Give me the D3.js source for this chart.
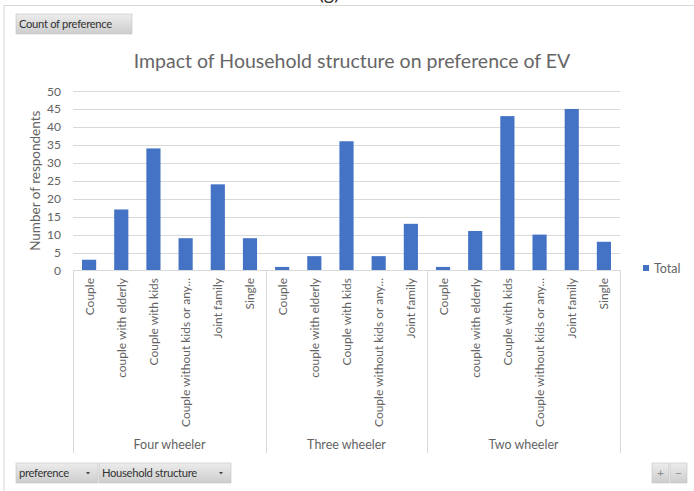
<!DOCTYPE html>
<html>
<head>
<meta charset="utf-8">
<script src="https://cdn.jsdelivr.net/npm/d3@7"></script>
<style>
  body { margin: 0; background: #fff; }
  svg { display: block; font-family: Lato, "Open Sans", sans-serif; }
</style>
</head>
<body>
<div id="chart"></div>
<script>
// data
const groups = ["Four wheeler", "Three wheeler", "Two wheeler"];
const fourWheelerCats = ["Couple", "couple with elderly", "Couple with kids", "Couple without kids or any...", "Joint family", "Single"];
const fourWheelerVals = [3, 17, 34, 9, 24, 9];
const threeWheelerCats = ["Couple", "couple with elderly", "Couple with kids", "Couple without kids or any...", "Joint family"];
const threeWheelerVals = [1, 4, 36, 4, 13];
const twoWheelerCats = ["Couple", "couple with elderly", "Couple with kids", "Couple without kids or any...", "Joint family", "Single"];
const twoWheelerVals = [1, 11, 43, 10, 45, 8];
const yTicks = [0, 5, 10, 15, 20, 25, 30, 35, 40, 45, 50];

const width = 694, height = 491;
const x0 = 73, x1 = 620, yTop = 91, yBase = 270.5;
const textCol = "#636363";

// flatten into rows
const rows = [];
[[fourWheelerCats, fourWheelerVals], [threeWheelerCats, threeWheelerVals], [twoWheelerCats, twoWheelerVals]]
  .forEach(([cats, vals], gi) => {
    cats.forEach((c, i) => rows.push({group: groups[gi], cat: c, value: vals[i], key: gi + "-" + i}));
  });

const svg = d3.select("#chart").append("svg")
  .attr("width", width).attr("height", height);

// outer frame
svg.append("path")
  .attr("d", `M4,${height} V5.5 H${width}`)
  .attr("fill", "none").attr("stroke", "#d6d6d6");
svg.append("text")
  .attr("x", 329).attr("y", 0)
  .attr("text-anchor", "middle")
  .attr("font-size", 20).attr("fill", "#333")
  .text("(g)");

const x = d3.scaleBand().domain(rows.map(d => d.key)).range([x0, x1]).padding(0);
const y = d3.scaleLinear().domain([0, 50]).range([yBase, yTop]);
const barW = x.bandwidth() * 0.44;

// gridlines
svg.append("g").selectAll("line")
  .data(yTicks.filter(t => t > 0))
  .join("line")
  .attr("x1", x0).attr("x2", x1)
  .attr("y1", d => Math.round(y(d)) + 0.5).attr("y2", d => Math.round(y(d)) + 0.5)
  .attr("stroke", "#d9d9d9");

// y tick labels
svg.append("g").selectAll("text")
  .data(yTicks)
  .join("text")
  .attr("x", 61).attr("y", d => y(d) + 4.5)
  .attr("text-anchor", "end")
  .attr("font-size", 12).attr("fill", textCol)
  .text(d => d);

svg.append("text")
  .attr("transform", `translate(40,${(yTop + yBase) / 2}) rotate(-90)`)
  .attr("text-anchor", "middle")
  .attr("font-size", 13.5).attr("fill", textCol)
  .text("Number of respondents");

// bars
svg.append("g").selectAll("rect")
  .data(rows)
  .join("rect")
  .attr("x", d => x(d.key) + (x.bandwidth() - barW) / 2)
  .attr("width", barW)
  .attr("y", d => y(d.value))
  .attr("height", d => yBase - y(d.value))
  .attr("fill", "#4472C4");

// category axis
const axisBottom = 453;
svg.append("line")
  .attr("x1", x0).attr("x2", x1).attr("y1", yBase).attr("y2", yBase)
  .attr("stroke", "#d9d9d9");
const bounds = [x0];
let idx = 0;
[fourWheelerCats, threeWheelerCats, twoWheelerCats].forEach(c => {
  idx += c.length;
  bounds.push(idx < rows.length ? x(rows[idx].key) : x1);
});
svg.append("g").selectAll("line")
  .data(bounds)
  .join("line")
  .attr("x1", d => Math.round(d) + 0.5).attr("x2", d => Math.round(d) + 0.5)
  .attr("y1", yBase).attr("y2", axisBottom)
  .attr("stroke", "#d9d9d9");

svg.append("g").selectAll("text")
  .data(rows)
  .join("text")
  .attr("transform", d => `translate(${x(d.key) + x.bandwidth() / 2 + 4.5},278) rotate(-90)`)
  .attr("text-anchor", "end")
  .attr("font-size", 12).attr("fill", textCol)
  .text(d => d.cat);

svg.append("g").selectAll("text")
  .data(groups)
  .join("text")
  .attr("x", (d, i) => (bounds[i] + bounds[i + 1]) / 2)
  .attr("y", 449)
  .attr("text-anchor", "middle")
  .attr("font-size", 12.5).attr("fill", textCol)
  .text(d => d);

// title
svg.append("text")
  .attr("x", 352).attr("y", 68)
  .attr("text-anchor", "middle")
  .attr("font-size", 19.5).attr("fill", "#666")
  .text("Impact of Household structure on preference of EV");

// legend
svg.append("rect")
  .attr("x", 643).attr("y", 265).attr("width", 6).attr("height", 6)
  .attr("fill", "#4472C4");
svg.append("text")
  .attr("x", 654).attr("y", 272.5)
  .attr("font-size", 12.5).attr("fill", textCol)
  .text("Total");

// pivot field buttons
const grad = svg.append("defs").append("linearGradient")
  .attr("id", "btn").attr("x1", 0).attr("x2", 0).attr("y1", 0).attr("y2", 1);
grad.append("stop").attr("offset", "0%").attr("stop-color", "#ececec");
grad.append("stop").attr("offset", "100%").attr("stop-color", "#cdcdcd");

const buttons = [
  {label: "Count of preference", x: 16, y: 14, w: 116, h: 20, arrow: false},
  {label: "preference", x: 16, y: 463, w: 82, h: 20, arrow: true},
  {label: "Household structure", x: 99, y: 463, w: 132, h: 20, arrow: true},
  {label: "+", x: 652, y: 463, w: 17, h: 20, arrow: false},
  {label: "\u2212", x: 670, y: 463, w: 17, h: 20, arrow: false}
];
const btn = svg.append("g").selectAll("g")
  .data(buttons)
  .join("g")
  .attr("transform", d => `translate(${d.x},${d.y})`);
btn.append("rect")
  .attr("width", d => d.w).attr("height", d => d.h)
  .attr("fill", "url(#btn)").attr("stroke", "#c4c4c4").attr("stroke-width", 0.6);
btn.append("text")
  .attr("x", d => d.w < 20 ? d.w / 2 : 3)
  .attr("y", 14)
  .attr("text-anchor", d => d.w < 20 ? "middle" : "start")
  .attr("font-size", d => d.w < 20 ? 12 : 11.2)
  .attr("letter-spacing", d => d.w < 20 ? 0 : -0.3)
  .attr("fill", d => d.w < 20 ? "#8a8a8a" : "#333")
  .text(d => d.label);
btn.filter(d => d.arrow).append("path")
  .attr("d", d => `M${d.w - 12},9 h4 l-2,2.5 z`)
  .attr("fill", "#444");
</script>
</body>
</html>
